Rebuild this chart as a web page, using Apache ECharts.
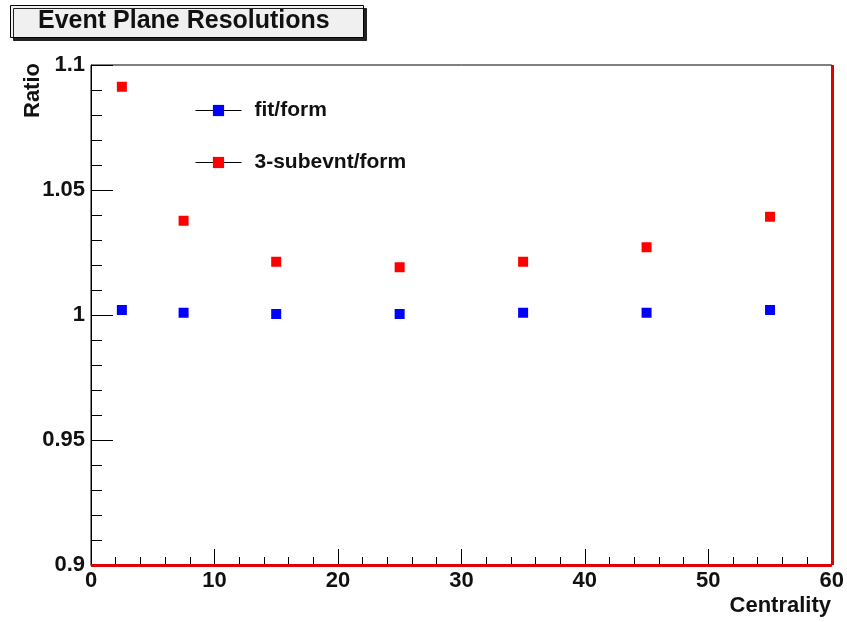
<!DOCTYPE html>
<html>
<head>
<meta charset="utf-8">
<script src="https://cdn.jsdelivr.net/npm/echarts@6/dist/echarts.min.js"></script>
<style>
html, body { margin: 0; padding: 0; background: #fff; }
#main { width: 847px; height: 622px; }
</style>
</head>
<body>
<div id="main"></div>
<script>
// centrality bins and the two ratios
var centrality = [2.5, 7.5, 15, 25, 35, 45, 55];
var fitForm = [1.0020, 1.0009, 1.0004, 1.0004, 1.0009, 1.0009, 1.0020];
var subevntForm = [1.0913, 1.0377, 1.0213, 1.0191, 1.0213, 1.0271, 1.0393];

function pairs(xs, ys) {
    return xs.map(function (x, i) { return [x, ys[i]]; });
}

var font = 'Liberation Sans, Arial, Helvetica, sans-serif';
var myChart = echarts.init(document.getElementById('main'));

var option = {
    animation: false,
    backgroundColor: '#fff',
    title: {
        text: 'Event Plane Resolutions',
        left: 10,
        top: 5,
        padding: [4, 34, 4, 28],
        backgroundColor: '#f0f0f0',
        borderColor: '#000',
        borderWidth: 1,
        shadowColor: '#222',
        shadowOffsetX: 3,
        shadowOffsetY: 3,
        textStyle: { fontFamily: font, fontWeight: 'bold', fontSize: 25, color: '#111' }
    },
    grid: {
        left: 91, right: 15, top: 65, bottom: 57,
        show: true, borderColor: '#000', borderWidth: 1
    },
    legend: {
        orient: 'vertical',
        left: 195,
        top: 100,
        padding: 0,
        itemWidth: 46,
        itemHeight: 14,
        itemGap: 31,
        lineStyle: { color: '#000', width: 1, opacity: 1 },
        textStyle: { fontFamily: font, fontWeight: 'bold', fontSize: 21, color: '#111', padding: [0, 0, 0, 8] },
        data: ['fit/form', '3-subevnt/form']
    },
    xAxis: {
        type: 'value',
        min: 0, max: 60, interval: 10,
        splitLine: { show: false },
        axisLine: { lineStyle: { color: '#000', width: 1 } },
        axisTick: { inside: true, length: 16, lineStyle: { color: '#000' } },
        minorTick: { show: true, splitNumber: 5, length: 8, lineStyle: { color: '#000' } },
        axisLabel: { fontFamily: font, fontWeight: 'bold', fontSize: 22, color: '#111', margin: 5 }
    },
    yAxis: {
        type: 'value',
        min: 0.9, max: 1.1, interval: 0.05,
        splitLine: { show: false },
        axisLine: { show: true, lineStyle: { color: '#000', width: 1 } },
        axisTick: { show: true, inside: true, length: 22, lineStyle: { color: '#000' } },
        minorTick: { show: true, splitNumber: 5, length: 11, lineStyle: { color: '#000' } },
        axisLabel: {
            fontFamily: font, fontWeight: 'bold', fontSize: 22, color: '#111', margin: 6,
            formatter: function (v) { return String(+v.toFixed(2)); }
        }
    },
    graphic: [
        {
            type: 'text', x: 33, y: 63, rotation: Math.PI / 2,
            style: { text: 'Ratio', fontFamily: font, fontWeight: 'bold', fontSize: 22, fill: '#111', align: 'right', verticalAlign: 'middle' }
        },
        {
            type: 'text', x: 831, y: 606,
            style: { text: 'Centrality', fontFamily: font, fontWeight: 'bold', fontSize: 22, fill: '#111', align: 'right', verticalAlign: 'middle' }
        }
    ],
    series: [
        {
            name: 'fit/form',
            type: 'line',
            data: pairs(centrality, fitForm),
            symbol: 'rect',
            symbolSize: 10,
            itemStyle: { color: '#0000ff' },
            lineStyle: { opacity: 0 },
            emphasis: { disabled: true }
        },
        {
            name: '3-subevnt/form',
            type: 'line',
            data: pairs(centrality, subevntForm),
            symbol: 'rect',
            symbolSize: 10,
            itemStyle: { color: '#ff0000' },
            lineStyle: { opacity: 0 },
            emphasis: { disabled: true },
            // red frame edges on bottom and right
            markLine: {
                silent: true,
                symbol: 'none',
                label: { show: false },
                lineStyle: { color: '#e00000', width: 3, type: 'solid' },
                data: [{ yAxis: 0.9 }, { xAxis: 60 }]
            }
        }
    ]
};
myChart.setOption(option);
</script>
</body>
</html>
